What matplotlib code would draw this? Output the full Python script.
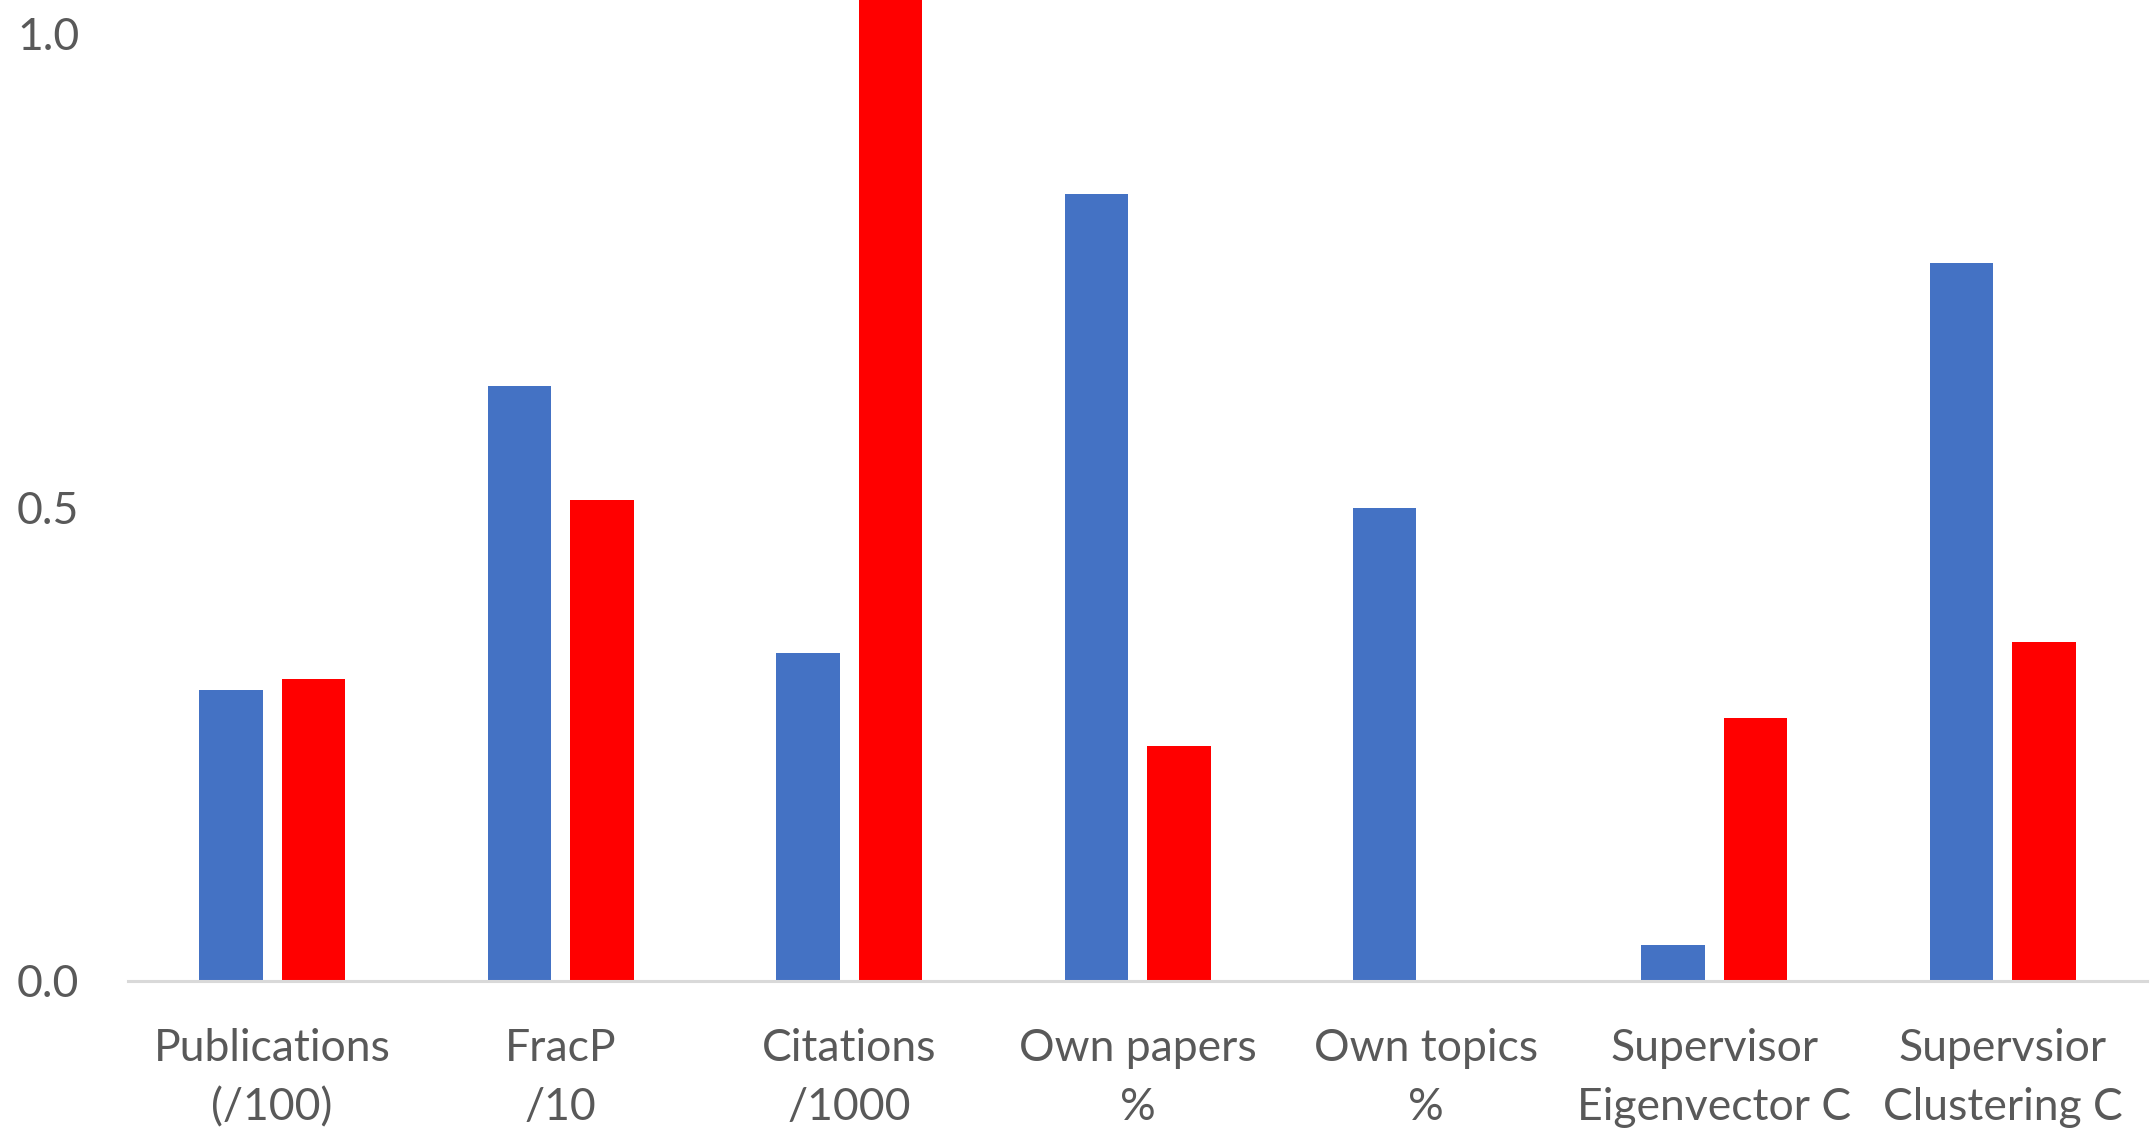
import numpy as np
from matplotlib import pyplot as plt

# categories and the two series
categories = ["Publications\n(/100)", "FracP\n/10", "Citations\n/1000", "Own papers\n%",
              "Own topics\n%", "Supervisor\nEigenvector C", "Supervsior\nClustering C"]
blue_vals = [0.307, 0.628, 0.346, 0.830, 0.499, 0.038, 0.758]
red_vals = [0.319, 0.507, 1.10, 0.248, 0.0, 0.277, 0.358]
y_ticks = [0.0, 0.5, 1.0]

plt.rcParams['font.family'] = ['Lato', 'DejaVu Sans']

fig = plt.figure(figsize=(21.54, 11.34), dpi=100)
ax = fig.add_axes([0.0594, 0.135, 0.9374, 0.865])

x = np.arange(len(categories))
w = 0.22
ax.bar(x - 0.143, blue_vals, width=w, color='#4472C4')
ax.bar(x + 0.143, red_vals, width=w, color='#FF0000')

ax.set_xlim(-0.5, len(categories) - 0.5)
ax.set_ylim(0, 1.035)
ax.set_yticks(y_ticks)
ax.set_yticklabels([f"{t:.1f}" for t in y_ticks])
ax.set_xticks(x)
ax.set_xticklabels(categories, linespacing=1.55)

for s in ['top', 'right', 'left']:
    ax.spines[s].set_visible(False)
ax.spines['bottom'].set_color('#D9D9D9')
ax.spines['bottom'].set_linewidth(2.2)

ax.tick_params(axis='both', length=0, labelsize=32, labelcolor='#595959')
ax.tick_params(axis='x', pad=34)
ax.tick_params(axis='y', pad=35)

fig.savefig('out.png', dpi=100)
